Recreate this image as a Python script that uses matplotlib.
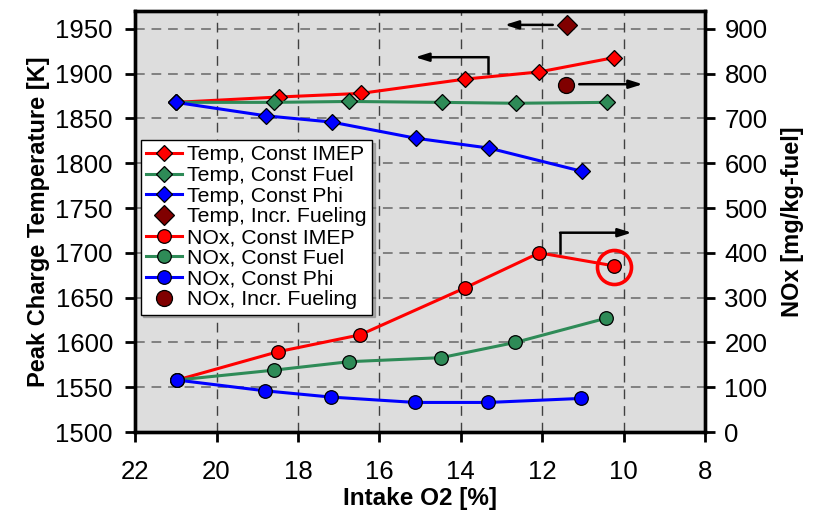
import matplotlib
matplotlib.use("Agg")
import matplotlib.pyplot as plt

plt.rcParams['font.family'] = ['Liberation Sans', 'DejaVu Sans']

# ---- data ----
o2_temp_imep = [21.0, 18.46, 16.46, 13.89, 12.07, 10.23]
temp_imep = [1868, 1874, 1878, 1894, 1902, 1918]
o2_temp_fuel = [21.0, 18.60, 16.74, 14.47, 12.65, 10.41]
temp_fuel = [1868, 1868, 1869, 1868, 1867, 1868]
o2_temp_phi = [21.0, 18.79, 17.17, 15.11, 13.31, 11.02]
temp_phi = [1868, 1853, 1846, 1828, 1817, 1791]
o2_temp_incr = [11.40]
temp_incr = [1954]

o2_nox_imep = [20.97, 18.50, 16.47, 13.89, 12.07, 10.24]
nox_imep = [116, 179, 217, 322, 400, 371]
o2_nox_fuel = [20.97, 18.60, 16.74, 14.48, 12.66, 10.43]
nox_fuel = [116, 138, 157, 166, 200, 254]
o2_nox_phi = [20.97, 18.81, 17.19, 15.12, 13.32, 11.04]
nox_phi = [116, 92, 78, 66, 66, 75]
o2_nox_incr = [11.41]
nox_incr = [774]

x_ticks = [22, 20, 18, 16, 14, 12, 10, 8]
temp_ticks = list(range(1500, 1951, 50))
nox_ticks = list(range(0, 901, 100))

RED = '#FF0000'
GREEN = '#2E8B57'
BLUE = '#0000FF'
DRED = '#800000'

fig = plt.figure(figsize=(8.27, 5.15), dpi=100)
ax = fig.add_axes([135.1 / 827, 1 - 432 / 515, (705 - 135.1) / 827, (432 - 11) / 515])
ax.set_facecolor('#DDDDDD')
ax.set_xlim(22, 8)
ax.set_ylim(1500, 1970)
ax.set_xticks(x_ticks)
ax.set_yticks(temp_ticks)

ax2 = ax.twinx()
ax2.set_ylim(0, 940)
ax2.set_yticks(nox_ticks)

# grid
for t in temp_ticks[1:]:
    ax.axhline(t, color='#808080', lw=1.4, ls=(0, (5, 3.5)), zorder=0.5)
for t in x_ticks[1:-1]:
    ax.axvline(t, color='#404040', lw=1.0, ls=(0, (7, 5)), zorder=0.5)

dkw = dict(marker='D', markersize=8.3, markeredgecolor='black', markeredgewidth=0.9, lw=2.2)
okw = dict(marker='o', markersize=9.8, markeredgecolor='black', markeredgewidth=0.9, lw=2.2)

h = []
h += ax.plot(o2_temp_imep, temp_imep, color=RED, markerfacecolor=RED, label='Temp, Const IMEP', **dkw)
h += ax.plot(o2_temp_fuel, temp_fuel, color=GREEN, markerfacecolor=GREEN, label='Temp, Const Fuel', **dkw)
h += ax.plot(o2_temp_phi, temp_phi, color=BLUE, markerfacecolor=BLUE, label='Temp, Const Phi', **dkw)
h += ax.plot(o2_temp_incr, temp_incr, ls='none', marker='D', markersize=10, color=DRED,
             markerfacecolor=DRED, markeredgecolor='black', markeredgewidth=0.9, label='Temp, Incr. Fueling')

h += ax2.plot(o2_nox_imep, nox_imep, color=RED, markerfacecolor=RED, label='NOx, Const IMEP', **okw)
h += ax2.plot(o2_nox_fuel, nox_fuel, color=GREEN, markerfacecolor=GREEN, label='NOx, Const Fuel', **okw)
h += ax2.plot(o2_nox_phi, nox_phi, color=BLUE, markerfacecolor=BLUE, label='NOx, Const Phi', **okw)
h += ax2.plot(o2_nox_incr, nox_incr, ls='none', marker='o', markersize=11.5, color=DRED,
              markerfacecolor=DRED, markeredgecolor='black', markeredgewidth=0.9, label='NOx, Incr. Fueling')

# highlight circle
ax2.plot([10.23], [369], ls='none', marker='o', markersize=24.5, markerfacecolor='none',
         markeredgecolor=RED, markeredgewidth=2.6)

# arrows
akw = dict(arrowstyle='-|>,head_length=0.8,head_width=0.25', color='black', lw=1.8, shrinkA=0, shrinkB=0)
ax.annotate('', xy=(12.92, 1954.5), xytext=(11.74, 1954.5), arrowprops=akw)
ax.plot([13.34, 13.34], [1900.5, 1918.4], color='black', lw=1.8, solid_capstyle='projecting')
ax.annotate('', xy=(15.12, 1918.4), xytext=(13.34, 1918.4), arrowprops=akw)
ax2.annotate('', xy=(9.53, 776.5), xytext=(11.09, 776.5), arrowprops=akw)
ax2.plot([11.56, 11.56], [399, 445], color='black', lw=1.8, solid_capstyle='projecting')
ax2.annotate('', xy=(9.80, 445), xytext=(11.56, 445), arrowprops=akw)

# spines / ticks
for a in (ax, ax2):
    for s in a.spines.values():
        s.set_linewidth(2.4)
ax.tick_params(axis='both', direction='out', length=7, width=2.0, labelsize=18.5)
ax.tick_params(axis='y', pad=9)
ax.tick_params(axis='x', pad=13)
ax2.tick_params(axis='y', direction='out', length=7, width=2.0, labelsize=18.5, pad=7)

ax.set_xlabel('Intake O2 [%]', fontsize=17.5, fontweight='bold', labelpad=2)
ax.set_ylabel('Peak Charge Temperature [K]', fontsize=17, fontweight='bold', labelpad=4)
ax2.set_ylabel('NOx [mg/kg-fuel]', fontsize=17, fontweight='bold', labelpad=10)

leg = ax2.legend(handles=h, loc='upper left', bbox_to_anchor=(0.0098, 0.6936), fontsize=15.3,
                 frameon=True, fancybox=False, shadow={'color': '#777777'}, framealpha=1, edgecolor='black',
                 handlelength=1.7, handletextpad=0.25, labelspacing=0.08, borderpad=0.25,
                 borderaxespad=0)
leg.get_frame().set_linewidth(1.0)

fig.savefig('out.png', dpi=100)
